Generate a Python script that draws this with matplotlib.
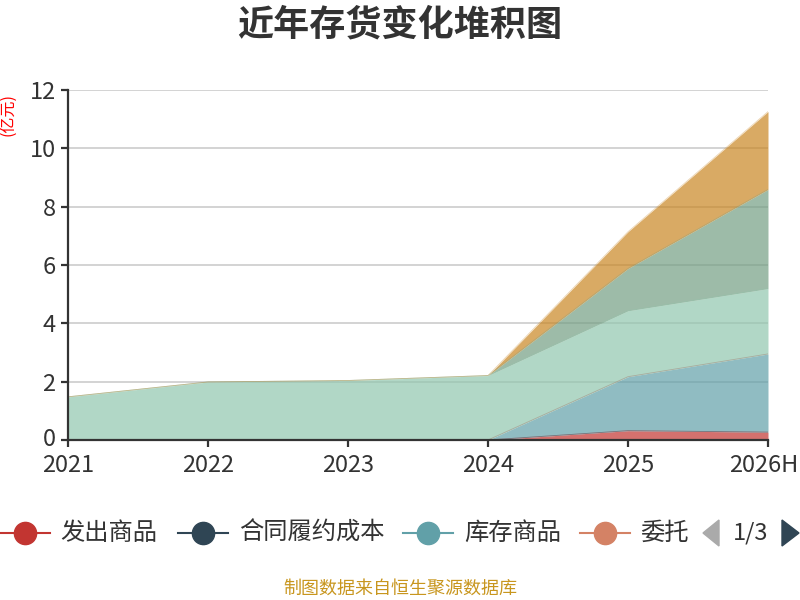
import matplotlib
matplotlib.use("Agg")
import matplotlib.pyplot as plt
import matplotlib.transforms as mtransforms
from matplotlib.lines import Line2D
from matplotlib.patches import Polygon
import numpy as np

plt.rcParams['font.family'] = ['Noto Sans CJK SC', 'DejaVu Sans']

years = ["2021", "2022", "2023", "2024", "2025", "2026H"]
series_names = ["发出商品", "合同履约成本", "库存商品", "委托加工物资", "原材料", "在产品", "周转材料"]
fa_chu = [0, 0, 0, 0, 0.32, 0.27]
he_tong = [0, 0, 0, 0, 0, 0]
ku_cun = [0, 0, 0, 0, 1.85, 2.68]
wei_tuo = [0, 0, 0, 0, 0, 0]
yuan_cai = [1.48, 1.99, 2.04, 2.21, 2.26, 2.24]
zai_chan = [0, 0, 0, 0, 1.45, 3.40]
zhou_zhuan = [0, 0, 0, 0, 1.26, 2.67]
colors = ['#c23531', '#2f4554', '#61a0a8', '#d48265', '#91c7ae', '#749f83', '#ca8622']
legend_page = ["发出商品", "合同履约成本", "库存商品", "委托"]
yticks = [0, 2, 4, 6, 8, 10, 12]

data = [fa_chu, he_tong, ku_cun, wei_tuo, yuan_cai, zai_chan, zhou_zhuan]

fig = plt.figure(figsize=(8, 6), dpi=100)
ax = fig.add_axes([68/800, 160/600, 700/800, 350/600])
x = np.arange(len(years))
base = np.zeros(len(years))
for vals, c in zip(data, colors):
    top = base + np.array(vals)
    ax.fill_between(x, base, top, color=c, alpha=0.7, linewidth=0, zorder=2)
    ax.plot(x, top, color=c, alpha=0.35, linewidth=0.6, zorder=3)
    base = top

ax.set_xlim(0, len(years) - 1)
ax.set_ylim(0, 12)
ax.set_yticks(yticks)
ax.set_xticks(x)
ax.set_xticklabels(years)
ax.yaxis.grid(True, color='#cccccc', linewidth=1.2, zorder=1)
ax.set_axisbelow(True)
for s in ['top', 'right']:
    ax.spines[s].set_visible(False)
for s in ['left', 'bottom']:
    ax.spines[s].set_color('#333333')
    ax.spines[s].set_linewidth(1.6)
    ax.spines[s].set_zorder(5)
ax.tick_params(axis='both', colors='#333333', labelsize=17, length=5, width=1.6)
ax.tick_params(axis='x', pad=5)
ax.tick_params(axis='y', pad=4)
lbls = ax.get_xticklabels()
lbls[-1].set_horizontalalignment('right')
lbls[-1].set_transform(lbls[-1].get_transform() +
                       mtransforms.ScaledTranslation(30/100, 0, fig.dpi_scale_trans))
ylbls = ax.get_yticklabels()
ylbls[0].set_transform(ylbls[0].get_transform() +
                       mtransforms.ScaledTranslation(0, 3/100, fig.dpi_scale_trans))

fig.text(0.5, 1 - 25/600, "近年存货变化堆积图", ha='center', va='center',
         fontsize=26, fontweight='bold', color='#333333')
fig.text(8/800, 1 - 115/600, "(亿元)", rotation=90, ha='center', va='center',
         fontsize=11.5, color='#ff0000')

# legend (manual, first page of a paged legend)
ly = 1 - 533/600
items = [(0, 50, 60), (178, 228, 239), (403, 453, 464), (580, 630, 640)]
for (x0, x1, tx), name, c in zip(items, legend_page, colors[:4]):
    fig.add_artist(Line2D([x0/800, x1/800], [ly, ly], color=c, linewidth=1.5,
                          transform=fig.transFigure))
    fig.add_artist(Line2D([(x0 + x1)/2/800], [ly], marker='o', markersize=16,
                          color=c, transform=fig.transFigure))
    fig.text(tx/800, ly, name, ha='left', va='center', fontsize=17.5, color='#333333')

fig.add_artist(Polygon([[719/800, 1-520/600], [703/800, ly], [719/800, 1-546/600]],
                       closed=True, color='#aaaaaa', transform=fig.transFigure))
fig.text(751/800, ly, "1/3", ha='center', va='center', fontsize=17, color='#333333')
fig.add_artist(Polygon([[782/800, 1-520/600], [799/800, ly], [782/800, 1-546/600]],
                       closed=True, color='#2f4554', transform=fig.transFigure))

fig.text(0.5, 1 - 589/600, "制图数据来自恒生聚源数据库", ha='center', va='center',
         fontsize=13, color='#c8961e')

fig.savefig("out.png", dpi=100)
